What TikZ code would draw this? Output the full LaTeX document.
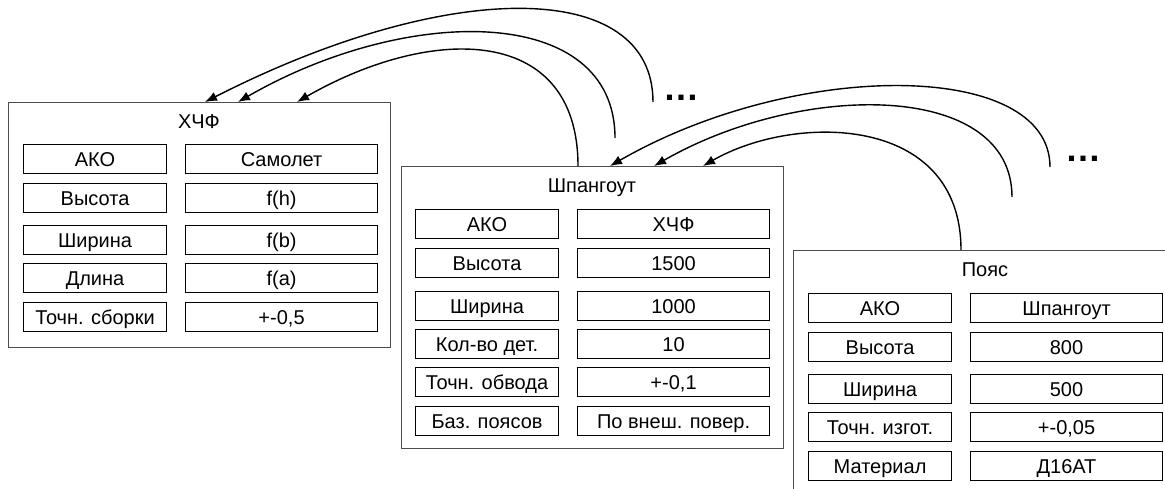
\documentclass[tikz,border=0pt]{standalone}
\usepackage{fontspec}
\setmainfont{Liberation Sans}
\usetikzlibrary{arrows.meta,calc}
\begin{document}
\begin{tikzpicture}[x=1pt,y=-1pt,
  frame/.style={draw=black!70,line width=1.2pt,fill=white,minimum width=382pt,anchor=north west,inner sep=0pt},
  cell/.style={draw=black,line width=1.1pt,minimum height=29pt,anchor=north west,inner sep=0pt,
    text height=14.3pt,text depth=0pt,font=\fontsize{20}{20}\selectfont},
  kcell/.style={cell,minimum width=143pt},
  vcell/.style={cell,minimum width=192pt},
  ttl/.style={font=\fontsize{20}{20}\selectfont,inner sep=0pt,anchor=base},
  link/.style={line width=1.4pt,-{Latex[length=12pt,width=9.5pt]}},
  dots/.style={font=\fontsize{36}{36}\selectfont\bfseries,inner sep=0pt,anchor=base}]
\useasboundingbox (0,0) rectangle (1165,488);
\clip (0,0) rectangle (1165,488);

% ---------- box 1 : ХЧФ ----------
\node[frame,minimum height=245pt] (b1) at (8,102) {};
\node[ttl] (t1) at (199,128) {ХЧФ};
\node[kcell] (b1k1) at (23,144) {АКО};
\node[vcell] (b1v1) at (185,144) {Самолет};
\node[kcell] (b1k2) at (23,183) {Высота};
\node[vcell] (b1v2) at (185,183) {f(h)};
\node[kcell] (b1k3) at (23,225) {Ширина};
\node[vcell] (b1v3) at (185,225) {f(b)};
\node[kcell] (b1k4) at (23,263) {Длина};
\node[vcell] (b1v4) at (185,263) {f(a)};
\node[kcell] (b1k5) at (23,302) {Точн. сборки};
\node[vcell] (b1v5) at (185,302) {+-0,5};

% ---------- box 2 : Шпангоут ----------
\node[frame,minimum height=282pt] (b2) at (401,166) {};
\node[ttl] (t2) at (592,192) {Шпангоут};
\node[kcell] (b2k1) at (415,209) {АКО};
\node[vcell] (b2v1) at (577,209) {ХЧФ};
\node[kcell] (b2k2) at (415,248) {Высота};
\node[vcell] (b2v2) at (577,248) {1500};
\node[kcell] (b2k3) at (415,291) {Ширина};
\node[vcell] (b2v3) at (577,291) {1000};
\node[kcell] (b2k4) at (415,329) {Кол-во дет.};
\node[vcell] (b2v4) at (577,329) {10};
\node[kcell] (b2k5) at (415,367) {Точн. обвода};
\node[vcell] (b2v5) at (577,367) {+-0,1};
\node[kcell] (b2k6) at (415,406) {Баз. поясов};
\node[vcell] (b2v6) at (577,406) {По внеш. повер.};

% ---------- box 3 : Пояс ----------
\node[frame,minimum height=290pt] (b3) at (793,250) {};
\node[ttl] (t3) at (985,276) {Пояс};
\node[kcell] (b3k1) at (808,293) {АКО};
\node[vcell] (b3v1) at (970,293) {Шпангоут};
\node[kcell] (b3k2) at (808,332) {Высота};
\node[vcell] (b3v2) at (970,332) {800};
\node[kcell] (b3k3) at (808,374) {Ширина};
\node[vcell] (b3v3) at (970,374) {500};
\node[kcell] (b3k4) at (808,412) {Точн. изгот.};
\node[vcell] (b3v4) at (970,412) {+-0,05};
\node[kcell] (b3k5) at (808,451) {Материал};
\node[vcell] (b3v5) at (970,451) {Д16АТ};

% ---------- free ends and dots ----------
\coordinate (f1) at (653,102);
\coordinate (f2) at (615,138);
\coordinate (g1) at (1050,167);
\coordinate (g2) at (1012,197);
\node[dots] (d1) at (681,100) {…};
\node[dots] (d2) at (1083,161) {…};

% ---------- connectors to ХЧФ ----------
\draw[link] (f1) .. controls (653,-22) and (448,-22) .. ([xshift=197pt]b1.north west);
\draw[link] (f2) .. controls (615,4) and (408,4) .. ([xshift=230pt]b1.north west);
\draw[link] ([xshift=177pt]b2.north west) .. controls (578,24.5) and (432,24.5) .. ([xshift=289pt]b1.north west);

% ---------- connectors to Шпангоут ----------
\draw[link] (g1) .. controls (1050,60) and (796,59) .. ([xshift=209pt]b2.north west);
\draw[link] (g2) .. controls (1012,81) and (802,81) .. ([xshift=253pt]b2.north west);
\draw[link] ([xshift=168pt]b3.north west) .. controls (961,113.5) and (794,113.5) .. ([xshift=302pt]b2.north west);
\end{tikzpicture}
\end{document}
